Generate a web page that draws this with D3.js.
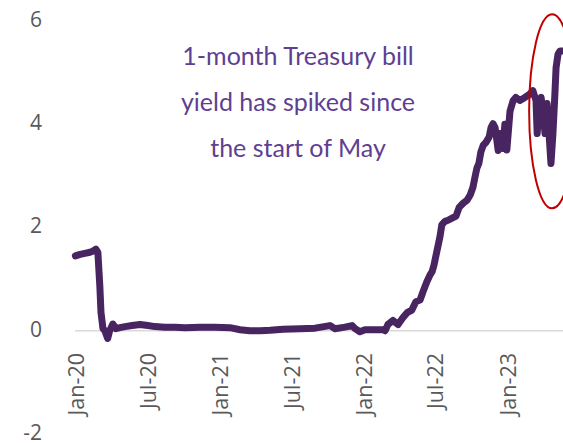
<!DOCTYPE html>
<html>
<head>
<meta charset="utf-8">
<script src="https://cdn.jsdelivr.net/npm/d3@7"></script>
<style>
  html, body { margin: 0; padding: 0; background: #fff; }
  svg { display: block; }
</style>
</head>
<body>
<svg id="chart" width="563" height="443"></svg>
<script>
// ---- Data (1-month Treasury bill yield, %) ----
const dates = [
  "2020-01-02","2020-01-14","2020-01-26","2020-02-08","2020-02-15","2020-02-23","2020-02-28",
  "2020-03-04","2020-03-07","2020-03-12","2020-03-17","2020-03-24","2020-03-29","2020-04-06",
  "2020-04-14","2020-04-24","2020-05-07","2020-05-25","2020-06-14","2020-07-04","2020-07-22",
  "2020-08-16","2020-09-11","2020-10-06","2020-11-13","2020-12-21","2021-01-28","2021-02-23",
  "2021-03-20","2021-04-15","2021-05-10","2021-06-12","2021-07-25","2021-09-01","2021-10-09",
  "2021-10-22","2021-11-16","2021-12-04","2021-12-12","2021-12-24","2022-01-06","2022-01-31",
  "2022-02-21","2022-02-26","2022-03-05","2022-03-18","2022-03-31","2022-04-12","2022-04-23",
  "2022-05-05","2022-05-15","2022-05-26","2022-06-02","2022-06-12","2022-06-20","2022-06-25",
  "2022-06-30","2022-07-08","2022-07-15","2022-07-20","2022-07-28","2022-08-05","2022-08-15",
  "2022-08-25","2022-09-02","2022-09-12","2022-09-22","2022-09-30","2022-10-07","2022-10-12",
  "2022-10-17","2022-10-22","2022-10-27","2022-11-02","2022-11-09","2022-11-17","2022-11-22",
  "2022-11-27","2022-12-02","2022-12-05","2022-12-10","2022-12-15","2022-12-20","2022-12-22",
  "2022-12-27","2023-01-01","2023-01-09","2023-01-17","2023-01-24","2023-02-03","2023-02-16",
  "2023-03-01","2023-03-08","2023-03-16","2023-03-19","2023-03-24","2023-03-29","2023-04-03",
  "2023-04-08","2023-04-13","2023-04-18","2023-04-23","2023-04-28","2023-05-03","2023-05-06",
  "2023-05-11","2023-05-16","2023-05-21"
];
const yields = [
  1.45,1.48,1.50,1.52,1.54,1.58,1.52,
  0.87,0.35,0.04,0.00,-0.15,0.00,0.13,
  0.04,0.06,0.08,0.10,0.12,0.10,0.08,
  0.07,0.07,0.06,0.07,0.07,0.06,0.02,
  0.00,0.00,0.01,0.03,0.04,0.05,0.10,
  0.04,0.07,0.10,0.04,-0.02,0.02,0.02,
  0.02,0.00,0.12,0.20,0.12,0.25,0.35,
  0.40,0.56,0.60,0.75,0.95,1.08,1.14,
  1.27,1.56,1.81,2.05,2.12,2.14,2.18,
  2.22,2.39,2.47,2.53,2.63,2.78,2.97,
  3.15,3.24,3.46,3.59,3.65,3.75,3.94,
  4.01,3.94,3.78,3.49,3.82,3.75,3.53,
  4.00,3.50,4.25,4.46,4.52,4.46,4.52,
  4.59,4.65,4.46,3.82,4.40,4.52,4.20,
  3.82,4.40,3.82,3.24,3.82,4.59,5.10,
  5.36,5.42,5.42
];
const xTickDates = ["2020-01-01","2020-07-01","2021-01-01","2021-07-01","2022-01-01","2022-07-01","2023-01-01"];
const xTickLabels = ["Jan-20","Jul-20","Jan-21","Jul-21","Jan-22","Jul-22","Jan-23"];
const yTicks = [-2, 0, 2, 4, 6];
const yTickLabels = ["-2", "0", "2", "4", "6"];
const annotationLines = ["1-month Treasury bill", "yield has spiked since", "the start of May"];

// ---- Setup ----
const parse = d3.timeParse("%Y-%m-%d");
const data = dates.map((d, i) => ({ date: parse(d), value: yields[i] }));

const svg = d3.select("#chart");
const x = d3.scaleTime()
  .domain([parse("2020-01-01"), parse("2023-05-21")])
  .range([75, 562]);
const y = d3.scaleLinear().domain([-2, 6]).range([434, 21]);

// Zero line
svg.append("line")
  .attr("x1", 75).attr("x2", 563)
  .attr("y1", y(0)).attr("y2", y(0))
  .attr("stroke", "#d9d9d9").attr("stroke-width", 1.5);

// Y axis labels
const yAxis = d3.axisLeft(y).tickValues(yTicks).tickSize(0).tickPadding(0)
  .tickFormat((d, i) => yTickLabels[i]);
const gy = svg.append("g").attr("transform", "translate(42,-2)").call(yAxis);
gy.select(".domain").remove();
gy.selectAll("text")
  .attr("font-family", "'Open Sans', sans-serif")
  .attr("font-size", 21)
  .attr("fill", "#595959")
  .attr("dy", "0.35em");

// X axis labels (rotated)
const tickDates = xTickDates.map(parse);
const xAxis = d3.axisBottom(x).tickValues(tickDates).tickSize(0).tickPadding(0)
  .tickFormat((d, i) => xTickLabels[i]);
const gx = svg.append("g").attr("transform", "translate(1,353)").call(xAxis);
gx.select(".domain").remove();
gx.selectAll("text")
  .attr("font-family", "'Open Sans', sans-serif")
  .attr("font-size", 21.5)
  .attr("fill", "#595959")
  .attr("text-anchor", "end")
  .attr("transform", "rotate(-90)")
  .attr("x", 0)
  .attr("y", 0)
  .attr("dy", "0.35em");

// Line
const line = d3.line().x(d => x(d.date)).y(d => y(d.value));
svg.append("path")
  .datum(data)
  .attr("d", line)
  .attr("fill", "none")
  .attr("stroke", "#482560")
  .attr("stroke-width", 7)
  .attr("stroke-linejoin", "round")
  .attr("stroke-linecap", "round");

// Annotation text
const ann = svg.append("text")
  .attr("font-family", "Lato, sans-serif")
  .attr("font-size", 25)
  .attr("fill", "#5e3f91")
  .attr("text-anchor", "middle");
annotationLines.forEach((t, i) => {
  ann.append("tspan").attr("x", 298).attr("y", 65 + i * 46).text(t);
});

// Highlight ellipse
svg.append("ellipse")
  .attr("cx", x(parse("2023-04-26")))
  .attr("cy", y(4.25))
  .attr("rx", 23)
  .attr("ry", 97)
  .attr("fill", "none")
  .attr("stroke", "#c00000")
  .attr("stroke-width", 2);
</script>
</body>
</html>
